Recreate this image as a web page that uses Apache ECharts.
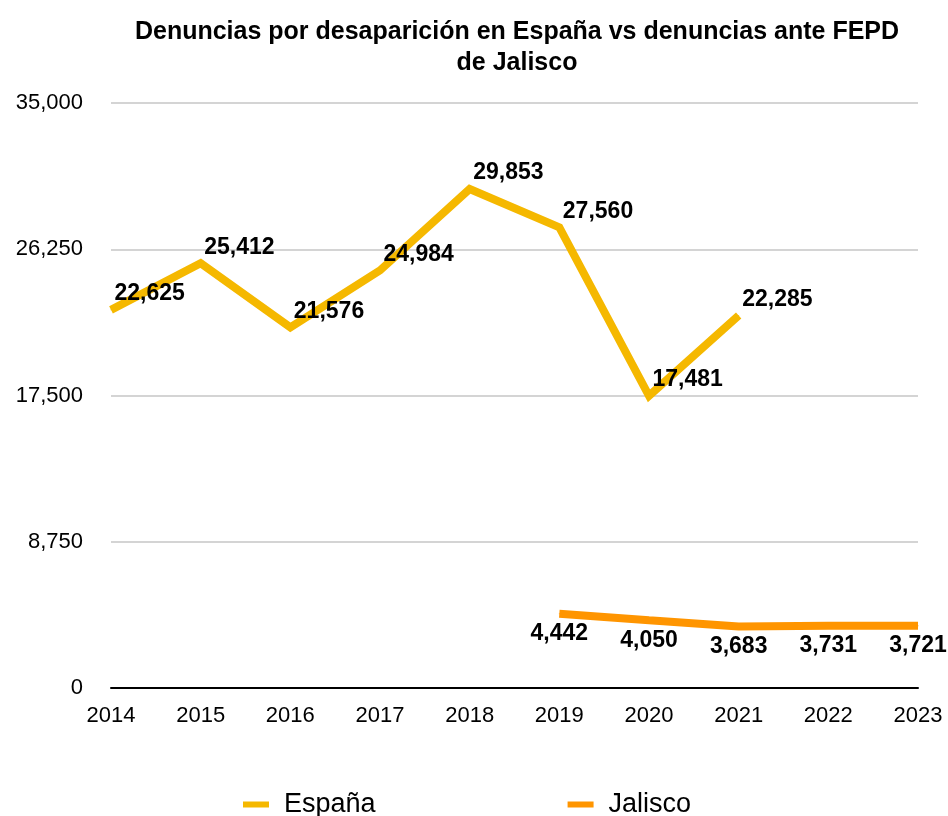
<!DOCTYPE html>
<html>
<head>
<meta charset="utf-8">
<script src="https://cdn.jsdelivr.net/npm/echarts@6/dist/echarts.min.js"></script>
<style>
  html, body { margin: 0; padding: 0; background: #fff; }
  #main { width: 948px; height: 816px; }
</style>
</head>
<body>
<div id="main"></div>
<script>
// datos
var years = ['2014', '2015', '2016', '2017', '2018', '2019', '2020', '2021', '2022', '2023'];
var espana = [22625, 25412, 21576, 24984, 29853, 27560, 17481, 22285, null, null];
var jalisco = [null, null, null, null, null, 4442, 4050, 3683, 3731, 3721];
var yTicks = [0, 8750, 17500, 26250, 35000];

var fuente = '"Liberation Sans", Arial, Helvetica, sans-serif';
var fmt = function (v) { return Number(v).toLocaleString('en-US'); };

var myChart = echarts.init(document.getElementById('main'));

var option = {
    animation: false,
    textStyle: { fontFamily: fuente },
    title: {
        text: 'Denuncias por desaparición en España vs denuncias ante FEPD\nde Jalisco',
        left: 512,
        textAlign: 'center',
        top: 12,
        textStyle: {
            fontFamily: fuente,
            fontSize: 25,
            fontWeight: 'bold',
            color: '#000',
            lineHeight: 31
        }
    },
    grid: { left: 111, right: 30, top: 103, bottom: 128 },
    legend: {
        top: 786,
        left: 238,
        itemGap: 192,
        itemWidth: 26,
        itemHeight: 6,
        icon: 'rect',
        textStyle: { fontFamily: fuente, fontSize: 27, color: '#000', padding: [0, 0, 0, 10] },
        data: ['España', 'Jalisco']
    },
    xAxis: {
        type: 'category',
        data: years,
        boundaryGap: false,
        axisLine: { lineStyle: { color: '#000', width: 2 } },
        axisTick: { show: false },
        axisLabel: { color: '#000', fontSize: 22, margin: 17, fontFamily: fuente }
    },
    yAxis: {
        type: 'value',
        min: yTicks[0],
        max: yTicks[yTicks.length - 1],
        interval: yTicks[1] - yTicks[0],
        axisLine: { show: false },
        axisTick: { show: false },
        axisLabel: { color: '#000', fontSize: 22, margin: 28, fontFamily: fuente, formatter: fmt },
        splitLine: { lineStyle: { color: '#d4d4d4', width: 2 } }
    },
    series: [
        {
            name: 'España',
            type: 'line',
            data: espana,
            symbol: 'circle',
            symbolSize: 1,
            showSymbol: true,
            connectNulls: false,
            lineStyle: { color: '#f5b800', width: 8, join: 'miter' },
            itemStyle: { color: '#f5b800' },
            labelLayout: { hideOverlap: false, dy: -16 },
            label: {
                show: true,
                position: 'right',
                distance: 3,
                color: '#000',
                fontSize: 23,
                fontWeight: 'bold',
                fontFamily: fuente,
                formatter: function (p) { return fmt(p.value); }
            }
        },
        {
            name: 'Jalisco',
            type: 'line',
            data: jalisco,
            symbol: 'circle',
            symbolSize: 1,
            showSymbol: true,
            lineStyle: { color: '#ff9500', width: 8 },
            itemStyle: { color: '#ff9500' },
            labelLayout: { hideOverlap: false },
            label: {
                show: true,
                position: 'bottom',
                distance: 8,
                color: '#000',
                fontSize: 23,
                fontWeight: 'bold',
                fontFamily: fuente,
                formatter: function (p) { return fmt(p.value); }
            }
        }
    ]
};

myChart.setOption(option);
</script>
</body>
</html>
